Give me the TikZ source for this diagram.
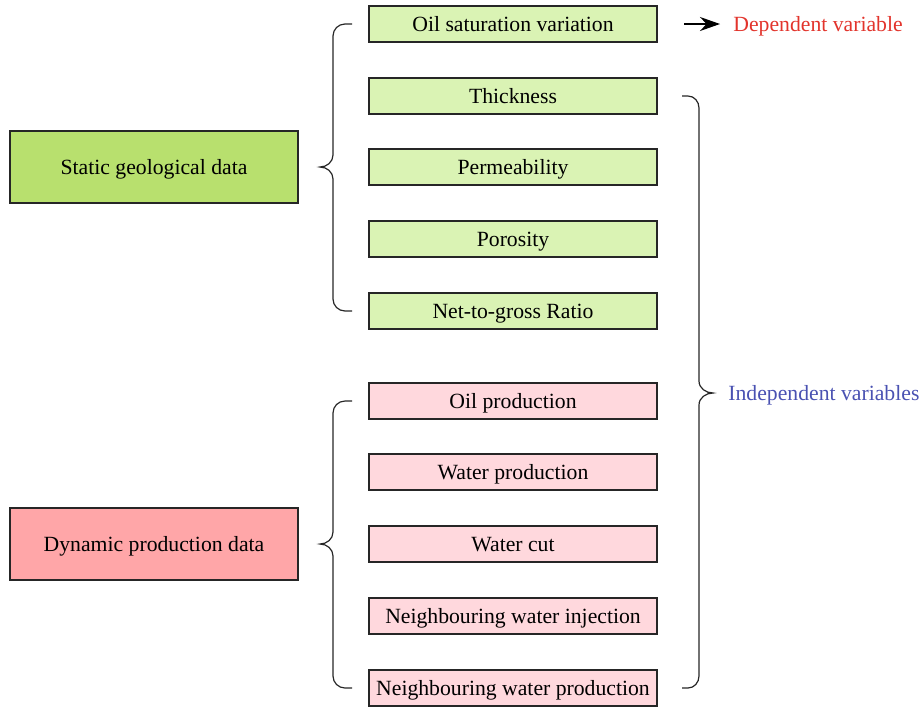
\documentclass[tikz,border=0pt]{standalone}
\usepackage{fontspec}
\setmainfont{Liberation Serif}
\usetikzlibrary{arrows.meta}

\definecolor{geodark}{RGB}{184,224,110}
\definecolor{geolight}{RGB}{218,243,180}
\definecolor{proddark}{RGB}{255,166,168}
\definecolor{prodlight}{RGB}{255,216,221}
\definecolor{depred}{RGB}{226,52,44}
\definecolor{indblue}{RGB}{74,82,178}

\tikzset{
  groupbox/.style={draw=black!85, line width=0.7pt, minimum width=144pt, minimum height=36pt, inner sep=0pt, text height=0.72em, text depth=0em},
  itembox/.style={draw=black!85, line width=0.7pt, minimum width=144pt, minimum height=18pt, inner sep=0pt, text height=0.72em, text depth=0em},
  bracket/.style={line width=0.6pt, black!85},
}

\begin{document}
\begin{tikzpicture}[x=0.5pt, y=-0.5pt, every node/.style={font=\fontsize{10.85}{12}\selectfont}]
  \useasboundingbox (0,0) rectangle (924,708);

  % groups
  \node[groupbox, fill=geodark] (static) at (154,167) {Static geological data};
  \node[groupbox, fill=proddark] (dynamic) at (154,544) {Dynamic production data};

  % static items
  \node[itembox, fill=geolight] (sat) at (513,24) {Oil saturation variation};
  \node[itembox, fill=geolight] (thick) at (513,96) {Thickness};
  \node[itembox, fill=geolight] (perm) at (513,167) {Permeability};
  \node[itembox, fill=geolight] (poro) at (513,239) {Porosity};
  \node[itembox, fill=geolight] (ntg) at (513,311) {Net-to-gross Ratio};

  % dynamic items
  \node[itembox, fill=prodlight] (oilprod) at (513,401) {Oil production};
  \node[itembox, fill=prodlight] (watprod) at (513,472) {Water production};
  \node[itembox, fill=prodlight] (watcut) at (513,544) {Water cut};
  \node[itembox, fill=prodlight] (nbinj) at (513,616) {Neighbouring water injection};
  \node[itembox, fill=prodlight] (nbprod) at (513,688) {Neighbouring water production};

  % left braces
  \draw[bracket] (352,24) -- (345,24) to[out=180,in=90] (333,36) -- (333,155)
    to[out=-90,in=0] (320,167) to[out=0,in=90] (333,179) -- (333,299)
    to[out=-90,in=180] (345,311) -- (352,311);
  \draw[bracket] (352,401) -- (345,401) to[out=180,in=90] (333,413) -- (333,532)
    to[out=-90,in=0] (320,544) to[out=0,in=90] (333,556) -- (333,676)
    to[out=-90,in=180] (345,688) -- (352,688);

  % right brace
  \draw[bracket] (682,96) -- (688,96) to[out=0,in=90] (699,108) -- (699,381)
    to[out=-90,in=180] (713,393) to[out=180,in=90] (699,405) -- (699,676)
    to[out=-90,in=0] (688,688) -- (682,688);

  % labels
  \coordinate (arrstart) at (684,24);
  \coordinate (arrend) at (720,24);
  \draw[-{Stealth[length=10pt,width=7pt]}, line width=0.6pt] (arrstart) -- (arrend);
  \node[anchor=west, inner sep=0pt, text=depred, text height=0.72em, text depth=0em] (dep) at (733,24) {Dependent variable};
  \node[anchor=west, inner sep=0pt, text=indblue, text height=0.72em, text depth=0em] (indep) at (728,393) {Independent variables};
\end{tikzpicture}
\end{document}
